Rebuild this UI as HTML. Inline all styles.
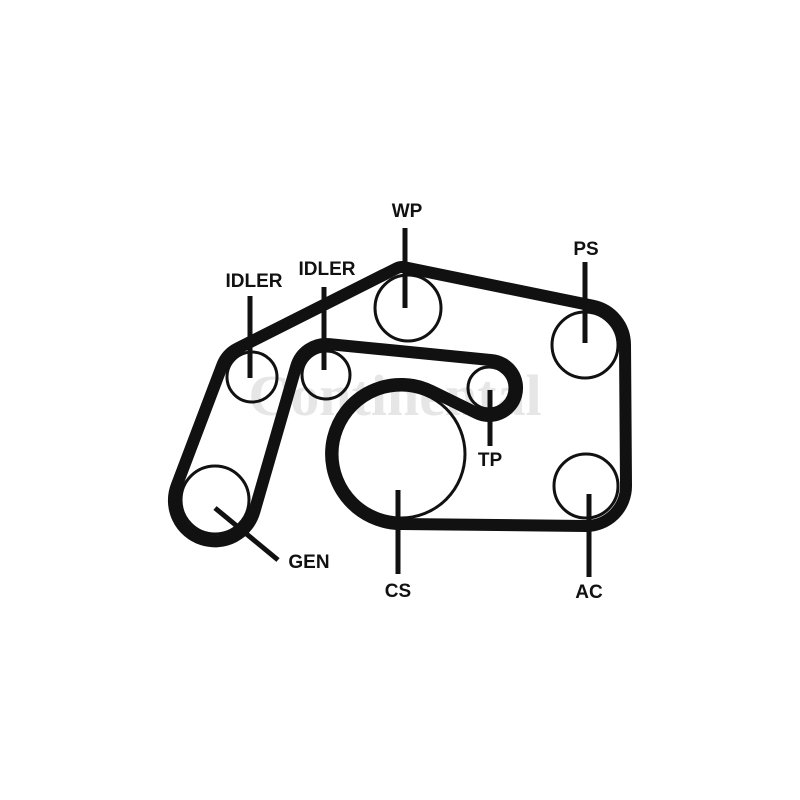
<!DOCTYPE html>
<html><head><meta charset="utf-8"><style>
html,body{margin:0;padding:0;background:#fff;width:800px;height:800px;overflow:hidden}
svg text{font-family:"Liberation Sans",sans-serif;font-weight:bold;font-size:19px;fill:#111}
</style></head><body>
<svg id="s" width="800" height="800" viewBox="0 0 800 800" xmlns="http://www.w3.org/2000/svg">
<text x="395" y="415" text-anchor="middle" style="font-family:'Liberation Serif',serif;font-size:58px;fill:#e6e6e6;font-weight:bold">Continental</text>
<g fill="none" stroke="#111" stroke-width="3">
<circle cx="408" cy="308" r="33"/>
<circle cx="585" cy="345" r="33"/>
<circle cx="586" cy="486" r="32"/>
<circle cx="401" cy="454" r="64"/>
<circle cx="489" cy="388" r="21"/>
<circle cx="326" cy="375" r="24"/>
<circle cx="252" cy="377" r="25"/>
<circle cx="215" cy="500" r="34"/>
</g>
<path id="belt" fill="none" stroke="#111" stroke-width="12" stroke-linejoin="round" d=""/>
<g stroke="#111" stroke-width="5">
<line x1="405" y1="228" x2="405" y2="308"/>
<line x1="250" y1="296" x2="250" y2="378"/>
<line x1="324" y1="287" x2="324" y2="370"/>
<line x1="585" y1="262" x2="585" y2="343"/>
<line x1="490" y1="390" x2="490" y2="446"/>
<line x1="398" y1="490" x2="398" y2="574"/>
<line x1="589" y1="494" x2="589" y2="577"/>
<line x1="215" y1="508" x2="278" y2="560"/>
</g>
<text x="407" y="217" text-anchor="middle">WP</text>
<text x="254" y="287" text-anchor="middle">IDLER</text>
<text x="327" y="275" text-anchor="middle">IDLER</text>
<text x="586" y="255" text-anchor="middle">PS</text>
<text x="490" y="466" text-anchor="middle">TP</text>
<text x="309" y="568" text-anchor="middle">GEN</text>
<text x="398" y="597" text-anchor="middle">CS</text>
<text x="589" y="598" text-anchor="middle">AC</text>
</svg>
<script>
var C=[
[402,279,12,1],
[585,345,40,1],
[586,486,40,1],
[401,454,70,1],
[489,388,28,-1],
[326,375,31,-1],
[215,500,41,1],
[252,377,32,1]
];
function tan(a,b){
 var r1=a[2]*a[3],r2=b[2]*b[3];
 var dx=b[0]-a[0],dy=b[1]-a[1],L=Math.hypot(dx,dy);
 var ux=dx/L,uy=dy/L,vx=-uy,vy=ux;
 var al=(r1-r2)/L,be=-Math.sqrt(Math.max(0,1-al*al));
 var nx=al*ux+be*vx,ny=al*uy+be*vy;
 return [[a[0]+r1*nx,a[1]+r1*ny],[b[0]+r2*nx,b[1]+r2*ny]];
}
var n=C.length,T=[];
for(var i=0;i<n;i++)T.push(tan(C[i],C[(i+1)%n]));
var d="";
for(var i=0;i<n;i++){
 var c=C[(i+1)%n],pin=T[i][1],pout=T[(i+1)%n][0];
 if(i==0)d+="M"+T[0][0][0].toFixed(1)+" "+T[0][0][1].toFixed(1);
 d+=" L"+pin[0].toFixed(1)+" "+pin[1].toFixed(1);
 var ai=Math.atan2(pin[1]-c[1],pin[0]-c[0]),ao=Math.atan2(pout[1]-c[1],pout[0]-c[0]);
 var del=c[3]>0?(ao-ai):(ai-ao);
 while(del<0)del+=2*Math.PI;while(del>=2*Math.PI)del-=2*Math.PI;
 d+=" A"+c[2]+" "+c[2]+" 0 "+(del>Math.PI?1:0)+" "+(c[3]>0?1:0)+" "+pout[0].toFixed(1)+" "+pout[1].toFixed(1);
}
d+=" Z";
document.getElementById("belt").setAttribute("d",d);
</script>
</body></html>
